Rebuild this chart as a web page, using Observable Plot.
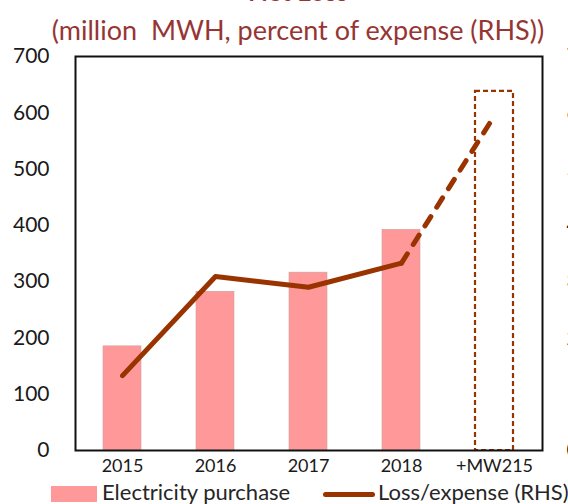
<!DOCTYPE html>
<html><head><meta charset="utf-8">
<script src="https://cdn.jsdelivr.net/npm/d3@7"></script>
<script src="https://cdn.jsdelivr.net/npm/@observablehq/plot@0.6"></script>
<style>
body{margin:0;background:#fff;font-family:Lato,sans-serif;}
#wrap{position:relative;width:568px;height:504px;overflow:hidden;background:#fff;}
#title{position:absolute;left:0;width:596px;text-align:center;top:-24px;font-weight:bold;font-size:26px;color:#963634;line-height:30px;}
#subtitle{position:absolute;left:0;width:596px;text-align:center;top:15px;font-size:27px;color:#963634;line-height:30px;white-space:nowrap;}
#chart{position:absolute;left:0;top:48px;}
.leg{position:absolute;font-size:22px;color:#262626;line-height:24px;top:480px;white-space:nowrap;}
.sw{position:absolute;}
</style></head>
<body><div id="wrap">
<div id="title">Net Loss</div>
<div id="subtitle">(million&nbsp; MWH, percent of expense (RHS))</div>
<div id="chart"></div>
<div class="sw" style="left:51px;top:486px;width:46px;height:16px;background:#FF9999;"></div>
<div class="leg" style="left:102px;">Electricity purchase</div>
<div class="sw" style="left:323px;top:492px;width:52px;height:5px;background:#993300;border-radius:3px;"></div>
<div class="leg" style="left:378px;">Loss/expense (RHS)</div>
</div>
<script>
const categories = ["2015", "2016", "2017", "2018", "+MW215"];
const purchase = [185, 282, 316, 392, 638];      // million MWH (last = projected, dashed outline)
const lossPct = [13.3, 30.9, 29.0, 33.3, 59.5];  // percent of expense (RHS)
const leftTicks = [0, 100, 200, 300, 400, 500, 600, 700];
const rightTicks = [0, 10, 20, 30, 40, 50, 60, 70];
const rhsFactor = 10; // RHS 0–70 shares the LHS 0–700 range

const bars = categories.map((c, i) => ({cat: c, v: purchase[i], projected: i === categories.length - 1}));
const line = categories.map((c, i) => ({cat: c, pct: lossPct[i]}));

const color = "#993300";
const plot = Plot.plot({
  width: 568,
  height: 432,
  marginTop: 8,
  marginBottom: 30,
  marginLeft: 75,
  marginRight: 26,
  style: {fontFamily: "Lato, sans-serif", color: "#1a1a1a", background: "transparent", overflow: "visible"},
  x: {domain: categories, paddingInner: 0.59, paddingOuter: 0.295, label: null},
  y: {domain: [0, 700], label: null},
  marks: [
    Plot.barY(bars.filter(d => !d.projected), {x: "cat", y: "v", fill: "#FF9999", stroke: "#c8a0a0", strokeWidth: 0.6}),
    Plot.barY(bars.filter(d => d.projected), {x: "cat", y: "v", fill: "none", stroke: color, strokeWidth: 2.2, strokeDasharray: "5,3"}),
    Plot.lineY(line.slice(0, 4), {x: "cat", y: d => d.pct * rhsFactor, stroke: color, strokeWidth: 5, strokeLinecap: "round", strokeLinejoin: "round"}),
    Plot.lineY(line.slice(3), {x: "cat", y: d => d.pct * rhsFactor, stroke: color, strokeWidth: 5, strokeLinecap: "round", strokeDasharray: "11,11"}),
    Plot.frame({stroke: "#111", strokeWidth: 2}),
    Plot.axisY(leftTicks, {anchor: "left", tickSize: 0, tickPadding: 26, fontSize: 21, label: null}),
    Plot.axisY(rightTicks.map(t => t * rhsFactor), {anchor: "right", tickSize: 0, tickPadding: 24, fontSize: 21, label: null, tickFormat: d => d / rhsFactor}),
    Plot.axisX({tickSize: 0, tickPadding: 9, fontSize: 18, label: null})
  ]
});
document.getElementById("chart").appendChild(plot);
</script>
</body></html>
